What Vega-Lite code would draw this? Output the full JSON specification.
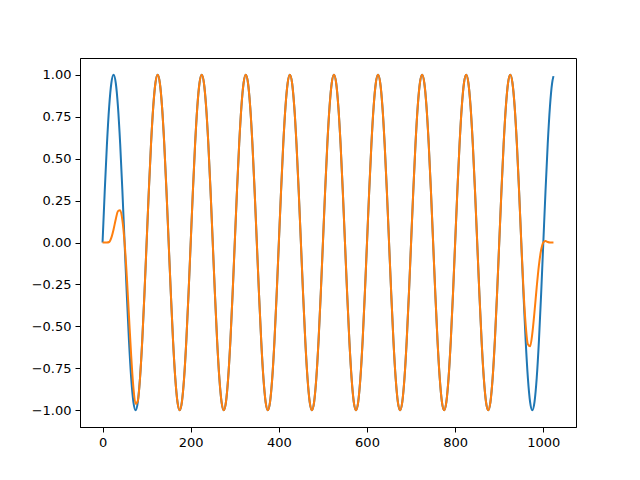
{
  "$schema": "https://vega.github.io/schema/vega-lite/v6.json",
  "width": 496,
  "height": 369,
  "autosize": {"type": "none"},
  "padding": {"left": 80, "top": 58, "right": 64, "bottom": 53},
  "background": "white",
  "config": {
    "view": {"stroke": "black", "strokeWidth": 1},
    "axis": {
      "grid": false,
      "domainColor": "black",
      "domainWidth": 1,
      "tickColor": "black",
      "tickWidth": 1,
      "tickSize": 5,
      "labelPadding": 4,
      "labelFont": "DejaVu Sans",
      "labelFontSize": 13,
      "labelColor": "black",
      "title": null
    }
  },
  "data": {"values": [
    {"x":0,"s":0,"w":0},{"x":5,"s":0.309,"w":0},{"x":10,"s":0.588,"w":0},{"x":15,"s":0.809,"w":0.003},
    {"x":20,"s":0.951,"w":0.029},{"x":25,"s":1,"w":0.078},{"x":30,"s":0.951,"w":0.139},{"x":35,"s":0.809,"w":0.187},
    {"x":40,"s":0.588,"w":0.193},{"x":45,"s":0.309,"w":0.134},{"x":50,"s":0,"w":0},{"x":55,"s":-0.309,"w":-0.201},
    {"x":60,"s":-0.588,"w":-0.441},{"x":65,"s":-0.809,"w":-0.677},{"x":70,"s":-0.951,"w":-0.865},{"x":75,"s":-1,"w":-0.962},
    {"x":80,"s":-0.951,"w":-0.944},{"x":85,"s":-0.809,"w":-0.809},{"x":90,"s":-0.588,"w":-0.588},{"x":95,"s":-0.309,"w":-0.309},
    {"x":100,"s":0,"w":0},{"x":105,"s":0.309,"w":0.309},{"x":110,"s":0.588,"w":0.588},{"x":115,"s":0.809,"w":0.809},{"x":120,"s":0.951,"w":0.951},{"x":125,"s":1,"w":1},{"x":130,"s":0.951,"w":0.951},{"x":135,"s":0.809,"w":0.809},{"x":140,"s":0.588,"w":0.588},{"x":145,"s":0.309,"w":0.309},{"x":150,"s":0,"w":0},{"x":155,"s":-0.309,"w":-0.309},{"x":160,"s":-0.588,"w":-0.588},{"x":165,"s":-0.809,"w":-0.809},{"x":170,"s":-0.951,"w":-0.951},{"x":175,"s":-1,"w":-1},{"x":180,"s":-0.951,"w":-0.951},{"x":185,"s":-0.809,"w":-0.809},{"x":190,"s":-0.588,"w":-0.588},{"x":195,"s":-0.309,"w":-0.309},
    {"x":200,"s":0,"w":0},{"x":205,"s":0.309,"w":0.309},{"x":210,"s":0.588,"w":0.588},{"x":215,"s":0.809,"w":0.809},{"x":220,"s":0.951,"w":0.951},{"x":225,"s":1,"w":1},{"x":230,"s":0.951,"w":0.951},{"x":235,"s":0.809,"w":0.809},{"x":240,"s":0.588,"w":0.588},{"x":245,"s":0.309,"w":0.309},{"x":250,"s":0,"w":0},{"x":255,"s":-0.309,"w":-0.309},{"x":260,"s":-0.588,"w":-0.588},{"x":265,"s":-0.809,"w":-0.809},{"x":270,"s":-0.951,"w":-0.951},{"x":275,"s":-1,"w":-1},{"x":280,"s":-0.951,"w":-0.951},{"x":285,"s":-0.809,"w":-0.809},{"x":290,"s":-0.588,"w":-0.588},{"x":295,"s":-0.309,"w":-0.309},
    {"x":300,"s":0,"w":0},{"x":305,"s":0.309,"w":0.309},{"x":310,"s":0.588,"w":0.588},{"x":315,"s":0.809,"w":0.809},{"x":320,"s":0.951,"w":0.951},{"x":325,"s":1,"w":1},{"x":330,"s":0.951,"w":0.951},{"x":335,"s":0.809,"w":0.809},{"x":340,"s":0.588,"w":0.588},{"x":345,"s":0.309,"w":0.309},{"x":350,"s":0,"w":0},{"x":355,"s":-0.309,"w":-0.309},{"x":360,"s":-0.588,"w":-0.588},{"x":365,"s":-0.809,"w":-0.809},{"x":370,"s":-0.951,"w":-0.951},{"x":375,"s":-1,"w":-1},{"x":380,"s":-0.951,"w":-0.951},{"x":385,"s":-0.809,"w":-0.809},{"x":390,"s":-0.588,"w":-0.588},{"x":395,"s":-0.309,"w":-0.309},
    {"x":400,"s":0,"w":0},{"x":405,"s":0.309,"w":0.309},{"x":410,"s":0.588,"w":0.588},{"x":415,"s":0.809,"w":0.809},{"x":420,"s":0.951,"w":0.951},{"x":425,"s":1,"w":1},{"x":430,"s":0.951,"w":0.951},{"x":435,"s":0.809,"w":0.809},{"x":440,"s":0.588,"w":0.588},{"x":445,"s":0.309,"w":0.309},{"x":450,"s":0,"w":0},{"x":455,"s":-0.309,"w":-0.309},{"x":460,"s":-0.588,"w":-0.588},{"x":465,"s":-0.809,"w":-0.809},{"x":470,"s":-0.951,"w":-0.951},{"x":475,"s":-1,"w":-1},{"x":480,"s":-0.951,"w":-0.951},{"x":485,"s":-0.809,"w":-0.809},{"x":490,"s":-0.588,"w":-0.588},{"x":495,"s":-0.309,"w":-0.309},
    {"x":500,"s":0,"w":0},{"x":505,"s":0.309,"w":0.309},{"x":510,"s":0.588,"w":0.588},{"x":515,"s":0.809,"w":0.809},{"x":520,"s":0.951,"w":0.951},{"x":525,"s":1,"w":1},{"x":530,"s":0.951,"w":0.951},{"x":535,"s":0.809,"w":0.809},{"x":540,"s":0.588,"w":0.588},{"x":545,"s":0.309,"w":0.309},{"x":550,"s":0,"w":0},{"x":555,"s":-0.309,"w":-0.309},{"x":560,"s":-0.588,"w":-0.588},{"x":565,"s":-0.809,"w":-0.809},{"x":570,"s":-0.951,"w":-0.951},{"x":575,"s":-1,"w":-1},{"x":580,"s":-0.951,"w":-0.951},{"x":585,"s":-0.809,"w":-0.809},{"x":590,"s":-0.588,"w":-0.588},{"x":595,"s":-0.309,"w":-0.309},
    {"x":600,"s":0,"w":0},{"x":605,"s":0.309,"w":0.309},{"x":610,"s":0.588,"w":0.588},{"x":615,"s":0.809,"w":0.809},{"x":620,"s":0.951,"w":0.951},{"x":625,"s":1,"w":1},{"x":630,"s":0.951,"w":0.951},{"x":635,"s":0.809,"w":0.809},{"x":640,"s":0.588,"w":0.588},{"x":645,"s":0.309,"w":0.309},{"x":650,"s":0,"w":0},{"x":655,"s":-0.309,"w":-0.309},{"x":660,"s":-0.588,"w":-0.588},{"x":665,"s":-0.809,"w":-0.809},{"x":670,"s":-0.951,"w":-0.951},{"x":675,"s":-1,"w":-1},{"x":680,"s":-0.951,"w":-0.951},{"x":685,"s":-0.809,"w":-0.809},{"x":690,"s":-0.588,"w":-0.588},{"x":695,"s":-0.309,"w":-0.309},
    {"x":700,"s":0,"w":0},{"x":705,"s":0.309,"w":0.309},{"x":710,"s":0.588,"w":0.588},{"x":715,"s":0.809,"w":0.809},{"x":720,"s":0.951,"w":0.951},{"x":725,"s":1,"w":1},{"x":730,"s":0.951,"w":0.951},{"x":735,"s":0.809,"w":0.809},{"x":740,"s":0.588,"w":0.588},{"x":745,"s":0.309,"w":0.309},{"x":750,"s":0,"w":0},{"x":755,"s":-0.309,"w":-0.309},{"x":760,"s":-0.588,"w":-0.588},{"x":765,"s":-0.809,"w":-0.809},{"x":770,"s":-0.951,"w":-0.951},{"x":775,"s":-1,"w":-1},{"x":780,"s":-0.951,"w":-0.951},{"x":785,"s":-0.809,"w":-0.809},{"x":790,"s":-0.588,"w":-0.588},{"x":795,"s":-0.309,"w":-0.309},
    {"x":800,"s":0,"w":0},{"x":805,"s":0.309,"w":0.309},{"x":810,"s":0.588,"w":0.588},{"x":815,"s":0.809,"w":0.809},{"x":820,"s":0.951,"w":0.951},{"x":825,"s":1,"w":1},{"x":830,"s":0.951,"w":0.951},{"x":835,"s":0.809,"w":0.809},{"x":840,"s":0.588,"w":0.588},{"x":845,"s":0.309,"w":0.309},{"x":850,"s":0,"w":0},{"x":855,"s":-0.309,"w":-0.309},{"x":860,"s":-0.588,"w":-0.588},{"x":865,"s":-0.809,"w":-0.809},{"x":870,"s":-0.951,"w":-0.951},{"x":875,"s":-1,"w":-1},{"x":880,"s":-0.951,"w":-0.951},{"x":885,"s":-0.809,"w":-0.809},{"x":890,"s":-0.588,"w":-0.588},{"x":895,"s":-0.309,"w":-0.309},
    {"x":900,"s":0,"w":0},{"x":905,"s":0.309,"w":0.309},{"x":910,"s":0.588,"w":0.588},{"x":915,"s":0.809,"w":0.809},{"x":920,"s":0.951,"w":0.951},{"x":925,"s":1,"w":1},{"x":930,"s":0.951,"w":0.951},{"x":935,"s":0.809,"w":0.809},{"x":940,"s":0.588,"w":0.588},{"x":945,"s":0.309,"w":0.307},{"x":950,"s":0,"w":0},{"x":955,"s":-0.309,"w":-0.281},{"x":960,"s":-0.588,"w":-0.492},{"x":965,"s":-0.809,"w":-0.607},{"x":970,"s":-0.951,"w":-0.619},{"x":975,"s":-1,"w":-0.544},{"x":980,"s":-0.951,"w":-0.413},{"x":985,"s":-0.809,"w":-0.266},{"x":990,"s":-0.588,"w":-0.136},{"x":995,"s":-0.309,"w":-0.045},
    {"x":1000,"s":0,"w":0},{"x":1005,"s":0.309,"w":0.009},{"x":1010,"s":0.588,"w":0.003},{"x":1015,"s":0.809,"w":0},{"x":1020,"s":0.951,"w":0},{"x":1023,"s":0.992,"w":0}
  ]},
  "encoding": {
    "x": {
      "field": "x", "type": "quantitative",
      "scale": {"domain": [-51.15, 1074.15], "nice": false, "zero": false},
      "axis": {"values": [0, 200, 400, 600, 800, 1000], "format": "d"}
    }
  },
  "layer": [
    {
      "mark": {"type": "line", "color": "#1f77b4", "strokeWidth": 2, "interpolate": "monotone"},
      "encoding": {
        "y": {
          "field": "s", "type": "quantitative",
          "scale": {"domain": [-1.1, 1.1], "nice": false, "zero": false},
          "axis": {"values": [-1, -0.75, -0.5, -0.25, 0, 0.25, 0.5, 0.75, 1], "format": ".2f"}
        }
      }
    },
    {
      "mark": {"type": "line", "color": "#ff7f0e", "strokeWidth": 2, "interpolate": "monotone"},
      "encoding": {
        "y": {"field": "w", "type": "quantitative"}
      }
    }
  ]
}
